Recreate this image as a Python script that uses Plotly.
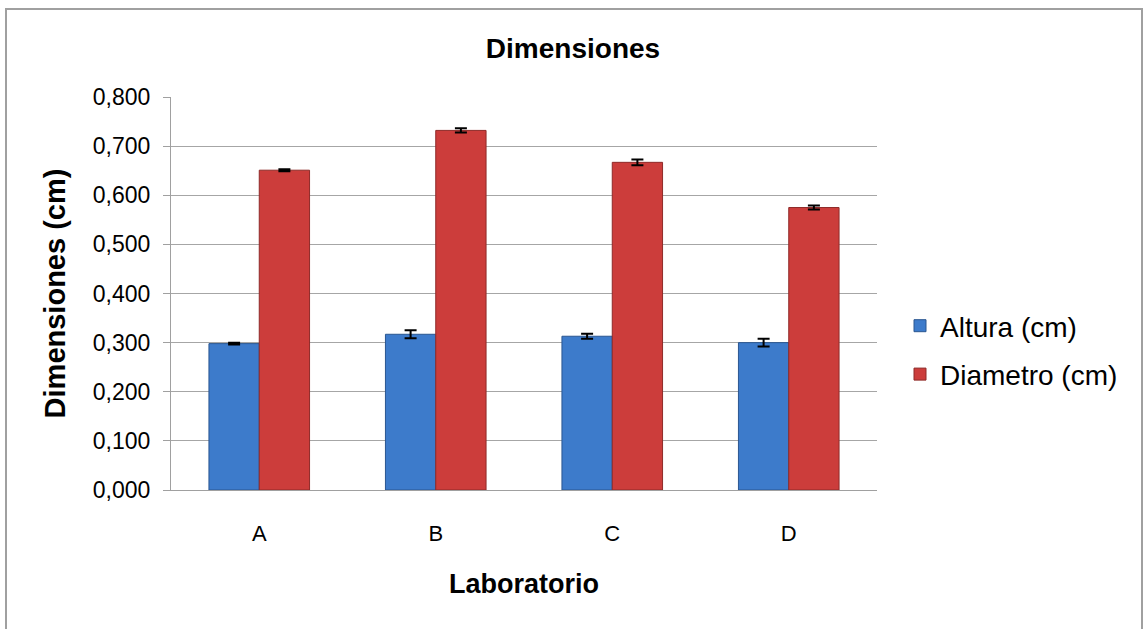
import plotly.graph_objects as go

categories = ["A", "B", "C", "D"]
altura = [0.298, 0.317, 0.313, 0.300]
altura_err = [0.002, 0.008, 0.005, 0.008]
diametro = [0.651, 0.732, 0.667, 0.575]
diametro_err = [0.002, 0.0045, 0.006, 0.004]
y_ticks = [0.0, 0.1, 0.2, 0.3, 0.4, 0.5, 0.6, 0.7, 0.8]

L, R, T, B = 171, 877, 97, 490
W, H = 1143, 629
pw, ph = R - L, B - T

fig = go.Figure()
fig.add_trace(go.Bar(
    x=categories, y=altura, name="Altura (cm)", legendgroup="a",
    marker=dict(color="#3D7BCB", line=dict(color="#2A5690", width=1)),
    error_y=dict(type="data", array=altura_err, color="black", thickness=2, width=6),
))
fig.add_trace(go.Bar(
    x=categories, y=diametro, name="Diametro (cm)", legendgroup="d",
    marker=dict(color="#CC3D3B", line=dict(color="#8E2A28", width=1)),
    error_y=dict(type="data", array=diametro_err, color="black", thickness=2, width=6),
))

fig.update_layout(
    width=W, height=H,
    margin=dict(l=L, r=W - R, t=T, b=H - B),
    paper_bgcolor="white", plot_bgcolor="white",
    separators=",.",
    barmode="group", bargap=0.43, bargroupgap=0.0,
    font=dict(family="Liberation Sans, Arial, sans-serif", color="black"),
    title=dict(text="<b>Dimensiones</b>", x=573 / W, xref="container", xanchor="center",
               y=1 - 48 / H, yanchor="middle", font=dict(size=28)),
    xaxis=dict(
        title=dict(text="<b>Laboratorio</b>", font=dict(size=27), standoff=28),
        tickfont=dict(size=22), showgrid=False, showline=True,
        linecolor="#A0A0A0", linewidth=1, ticks="", ticklabelstandoff=24,
    ),
    yaxis=dict(
        title=dict(text="<b>Dimensiones (cm)</b>", font=dict(size=29), standoff=18),
        range=[0, 0.8], tickvals=y_ticks, tickformat=".3f",
        tickfont=dict(size=23), showgrid=True, gridcolor="#A6A6A6", gridwidth=1,
        showline=True, linecolor="#A0A0A0", linewidth=1,
        ticks="outside", ticklen=7, tickcolor="#A0A0A0", zeroline=False,
        ticklabelstandoff=8,
    ),
    legend=dict(x=(900 - L) / pw, y=(B - 301) / ph, xanchor="left", yanchor="top",
                font=dict(size=28), tracegroupgap=9, itemwidth=30,
                bgcolor="rgba(0,0,0,0)"),
    showlegend=True,
)

fig.add_shape(type="rect", xref="paper", yref="paper",
              x0=(6 - L) / pw, x1=(1142 - L) / pw,
              y0=(B - 640) / ph, y1=(B - 9) / ph,
              line=dict(color="#A0A0A0", width=2), fillcolor="rgba(0,0,0,0)", layer="below")

fig.write_html("out.html", config={"displayModeBar": False},
               post_script="document.body.style.margin='0px';")
